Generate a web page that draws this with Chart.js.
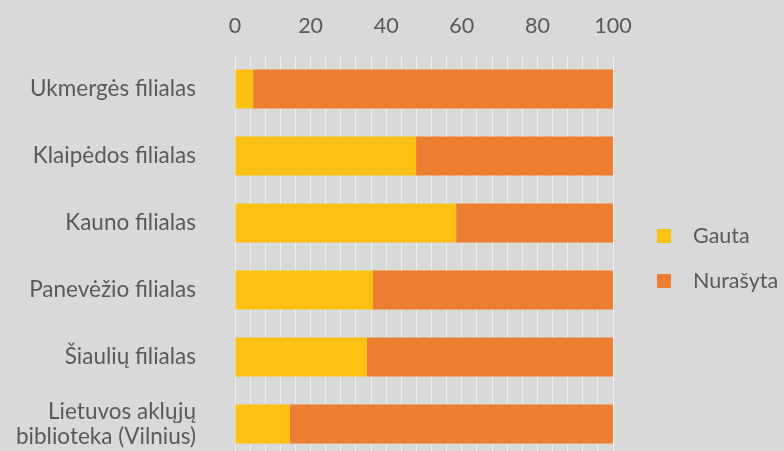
<!DOCTYPE html>
<html>
<head>
<meta charset="utf-8">
<script src="https://cdn.jsdelivr.net/npm/chart.js@4"></script>
<style>
html,body{margin:0;padding:0;background:#d9d9d9;}
#wrap{width:784px;height:451px;overflow:hidden;position:relative;background:#d9d9d9;}
#wrap canvas{display:block;}
</style>
</head>
<body>
<div id="wrap"><div style="width:784px;height:460px;"><canvas id="c" width="784" height="460"></canvas></div></div>
<script>
const categories = ['Ukmergės filialas','Klaipėdos filialas','Kauno filialas','Panevėžio filialas','Šiaulių filialas',['Lietuvos aklųjų','biblioteka (Vilnius)']];
const seriesNames = ['Gauta','Nurašyta'];
const gauta = [4.8, 47.9, 58.5, 36.5, 34.9, 14.5];
const nurasyta = [95.2, 52.1, 41.5, 63.5, 65.1, 85.5];
const tickLabels = [0, 20, 40, 60, 80, 100];
const colors = ['#FDC113', '#ED7D31'];

const FONT = 'Lato, "Open Sans", sans-serif';
const TEXT = '#595959';

const legendPlugin = {
  id: 'sideLegend',
  afterDraw(chart) {
    const ctx = chart.ctx;
    ctx.save();
    ctx.font = '21.5px ' + FONT;
    ctx.textBaseline = 'middle';
    ctx.textAlign = 'left';
    chart.data.datasets.forEach((ds, i) => {
      const cy = 236 + i * 45;
      ctx.fillStyle = ds.backgroundColor;
      ctx.fillRect(657, cy - 7, 14, 14);
      ctx.fillStyle = TEXT;
      ctx.fillText(ds.label, 693, cy);
    });
    ctx.restore();
  }
};

new Chart(document.getElementById('c'), {
  type: 'bar',
  data: {
    labels: categories,
    datasets: [
      {label: seriesNames[0], data: gauta, backgroundColor: colors[0], borderWidth: 0},
      {label: seriesNames[1], data: nurasyta, backgroundColor: colors[1], borderWidth: 0}
    ]
  },
  options: {
    indexAxis: 'y',
    responsive: false,
    animation: false,
    layout: {padding: {left: 0, right: 171, top: 0, bottom: 2.5}},
    plugins: {legend: {display: false}, tooltip: {enabled: false}},
    datasets: {bar: {categoryPercentage: 0.58, barPercentage: 1}},
    scales: {
      x: {
        position: 'top',
        stacked: true,
        min: 0, max: 100,
        afterFit(s) { s.height = 55.5; s.paddingLeft = 0; s.paddingRight = 0; },
        afterBuildTicks(s) {
          const t = [];
          for (let v = 0; v <= 100; v += 4) t.push({value: v});
          s.ticks = t;
        },
        ticks: {
          autoSkip: false,
          maxRotation: 0,
          padding: 17,
          color: TEXT,
          font: {family: FONT, size: 21.5},
          callback: (v) => tickLabels.includes(v) ? String(v) : ''
        },
        grid: {color: '#eeeeee', lineWidth: 1, drawTicks: false},
        border: {display: false}
      },
      y: {
        stacked: true,
        afterFit(s) { s.width = 235; s.paddingTop = 0; s.paddingBottom = 0; },
        ticks: {
          padding: 39,
          color: TEXT,
          font: {family: FONT, size: 22.5, lineHeight: 1.1}
        },
        grid: {display: false, drawTicks: false},
        border: {display: false}
      }
    }
  },
  plugins: [legendPlugin]
});
</script>
</body>
</html>
